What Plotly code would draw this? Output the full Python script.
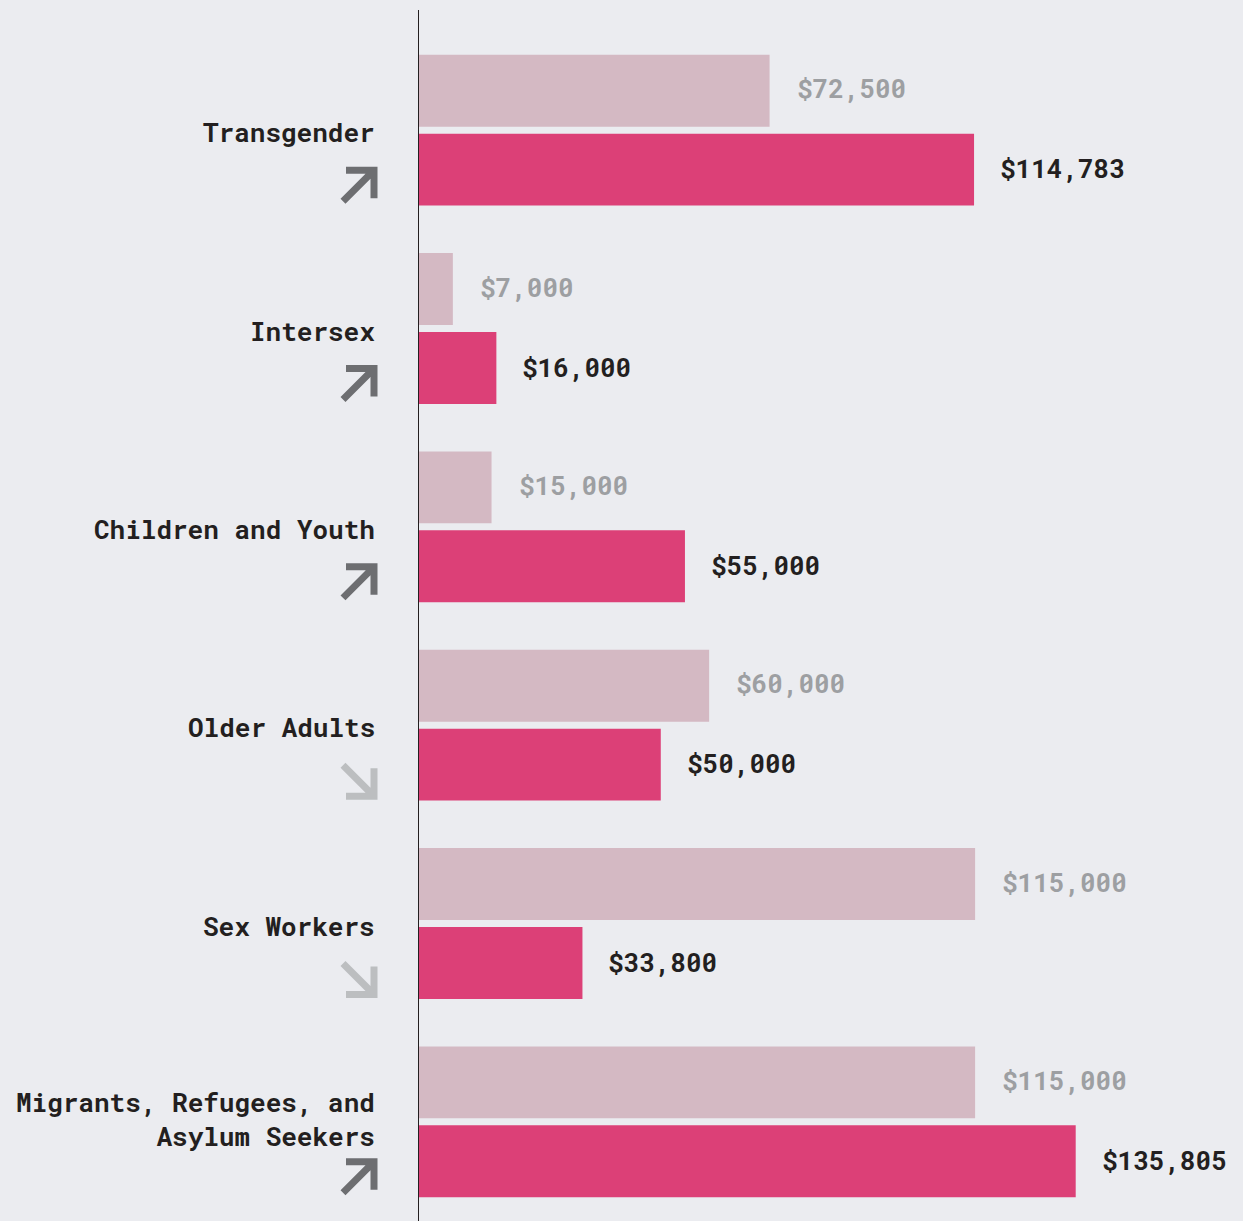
import plotly.graph_objects as go

categories = ["Transgender", "Intersex", "Children and Youth", "Older Adults",
              "Sex Workers", "Migrants, Refugees, and<br>Asylum Seekers"]
prev_values = [72500, 7000, 15000, 60000, 115000, 115000]
curr_values = [114783, 16000, 55000, 50000, 33800, 135805]
trend = ["up", "up", "up", "down", "down", "up"]

BG = "#ebecf0"
LIGHT = "#d4b9c3"
DARK = "#dc4077"
FONT = "Roboto Mono, DejaVu Sans Mono, monospace"

fig = go.Figure()
fig.add_trace(go.Bar(y=categories, x=prev_values, orientation="h",
                     marker=dict(color=LIGHT, line=dict(width=0)), hoverinfo="skip"))
fig.add_trace(go.Bar(y=categories, x=curr_values, orientation="h",
                     marker=dict(color=DARK, line=dict(width=0)), hoverinfo="skip"))

ann = []
for cat, pv, cv in zip(categories, prev_values, curr_values):
    ann.append(dict(x=pv, y=cat, xref="x", yref="y", text=f"${pv:,.0f}",
                    showarrow=False, xanchor="left", yanchor="middle",
                    xshift=25, yshift=42,
                    font=dict(family=FONT, size=26, color="#9d9fa2", weight=700)))
    ann.append(dict(x=cv, y=cat, xref="x", yref="y", text=f"${cv:,.0f}",
                    showarrow=False, xanchor="left", yanchor="middle",
                    xshift=24, yshift=-38,
                    font=dict(family=FONT, size=26, color="#231f20", weight=700)))
    ann.append(dict(x=0, y=cat, xref="paper", yref="y", text=cat,
                    showarrow=False, xanchor="right", yanchor="middle", align="right",
                    xshift=-42, yshift=(-2 if "<br>" not in cat else 3),
                    font=dict(family=FONT, size=26, color="#231f20", weight=700)))

shapes = []
UP = "M -76,-71 L -45,-40 M -73,-40 L -45,-40 L -45,-68"
DOWN = "M -76,-40 L -45,-71 M -73,-71 L -45,-71 L -45,-43"
for cat, t in zip(categories, trend):
    shapes.append(dict(type="path", xref="paper", yref="y",
                       xsizemode="pixel", ysizemode="pixel",
                       xanchor=0, yanchor=cat,
                       path=UP if t == "up" else DOWN,
                       line=dict(color="#6d6e71" if t == "up" else "#bcbec0", width=7)))

fig.update_layout(
    width=1243, height=1221,
    paper_bgcolor=BG, plot_bgcolor=BG,
    margin=dict(l=419, r=0, t=10, b=0),
    barmode="group", bargap=0.204, bargroupgap=0.089,
    showlegend=False,
    annotations=ann, shapes=shapes,
    xaxis=dict(range=[0, 170400], showgrid=False, zeroline=False,
               showticklabels=False, showline=False, fixedrange=True),
    yaxis=dict(range=[5.5, -0.606], showgrid=False, zeroline=False,
               showticklabels=False, showline=True, linecolor="#231f20",
               linewidth=1, ticks="", fixedrange=True),
)

fig.write_html("out.html", config={"displayModeBar": False},
               post_script="document.body.style.margin='0';document.body.style.background='#ebecf0';")
